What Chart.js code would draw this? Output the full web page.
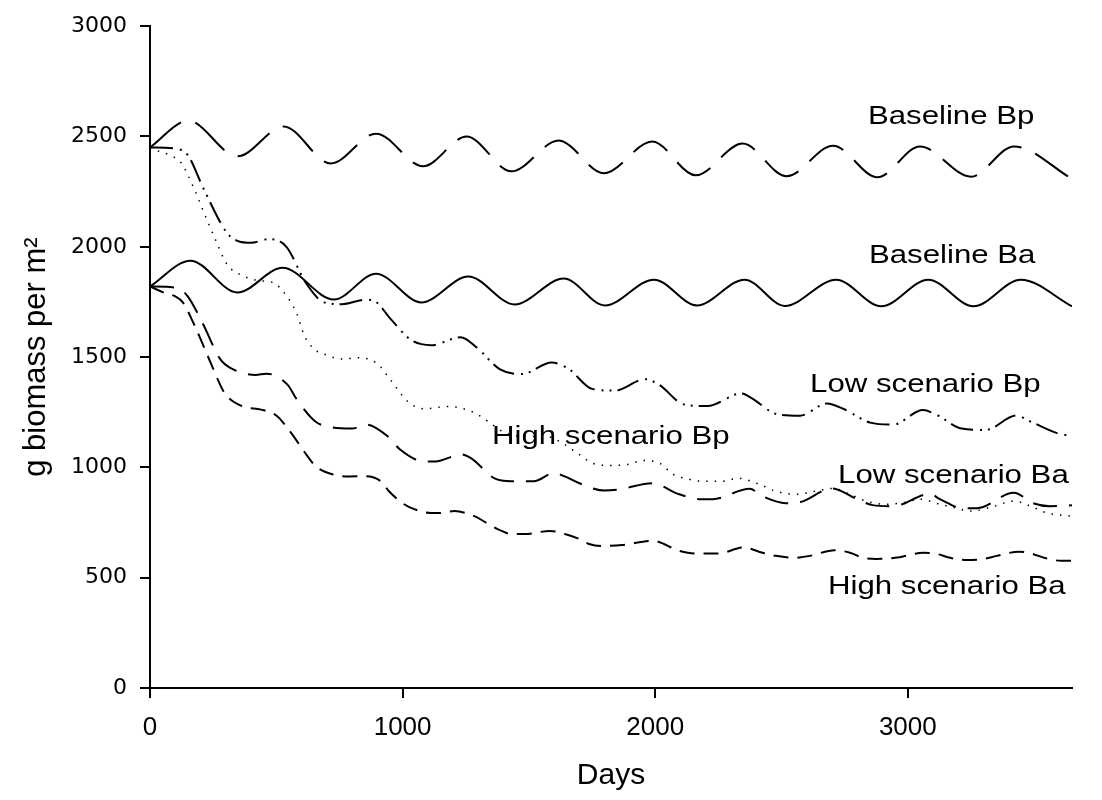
<!DOCTYPE html>
<html>
<head>
<meta charset="utf-8">
<title>Biomass scenarios</title>
<script src="https://cdn.jsdelivr.net/npm/chart.js@4.4.1/dist/chart.umd.min.js"></script>
<style>
    html, body { margin: 0; padding: 0; background: #fff; }
    #wrap { width: 1102px; height: 800px; position: relative; }
</style>
</head>
<body>
<div id="wrap"><canvas id="biomassChart"></canvas></div>
<script>
// Values: day number and g biomass per m2
const baselineBpDays = [0, 151, 346, 529, 716, 895, 1081, 1253, 1431, 1618, 1797, 1988, 2160, 2346, 2520, 2704, 2880, 3048, 3250, 3420, 3650];
const baselineBpValues = [2450, 2572, 2410, 2545, 2378, 2513, 2365, 2500, 2342, 2482, 2333, 2477, 2324, 2468, 2320, 2458, 2315, 2455, 2318, 2455, 2308];

const baselineBaDays = [0, 160, 346, 525, 728, 895, 1074, 1260, 1443, 1638, 1801, 1995, 2165, 2354, 2513, 2716, 2895, 3081, 3260, 3447, 3650];
const baselineBaValues = [1820, 1937, 1793, 1905, 1761, 1878, 1748, 1865, 1739, 1856, 1734, 1851, 1734, 1851, 1732, 1851, 1730, 1851, 1730, 1851, 1730];

const lowBpDays = [0, 100, 150, 211, 305, 350, 400, 470, 540, 616, 690, 760, 850, 887, 954, 1034, 1113, 1230, 1292, 1384, 1471, 1590, 1658, 1750, 1841, 1960, 2016, 2115, 2207, 2340, 2386, 2477, 2573, 2680, 2744, 2851, 2942, 3060, 3113, 3213, 3308, 3430, 3487, 3606, 3650];
const lowBpValues = [2450, 2445, 2415, 2266, 2063, 2025, 2018, 2035, 2000, 1838, 1748, 1740, 1760, 1755, 1671, 1577, 1554, 1590, 1545, 1446, 1423, 1475, 1446, 1356, 1348, 1400, 1374, 1285, 1278, 1335, 1311, 1243, 1234, 1290, 1266, 1203, 1194, 1260, 1239, 1176, 1170, 1235, 1207, 1150, 1145];

const highBpDays = [0, 30, 90, 125, 170, 210, 260, 305, 365, 430, 487, 545, 580, 610, 650, 700, 760, 830, 900, 950, 1022, 1085, 1180, 1280, 1340, 1400, 1480, 1570, 1630, 1700, 1754, 1821, 1890, 1952, 2019, 2071, 2120, 2190, 2260, 2330, 2413, 2477, 2557, 2636, 2704, 2771, 2835, 2915, 2980, 3050, 3120, 3193, 3248, 3330, 3420, 3487, 3551, 3650];
const highBpValues = [2450, 2435, 2410, 2378, 2275, 2165, 2030, 1920, 1870, 1847, 1838, 1770, 1700, 1600, 1536, 1509, 1491, 1497, 1470, 1400, 1297, 1266, 1276, 1250, 1207, 1160, 1140, 1140, 1112, 1058, 1018, 1009, 1013, 1031, 1018, 968, 950, 937, 937, 950, 923, 892, 878, 892, 905, 878, 847, 833, 840, 856, 835, 815, 802, 820, 847, 824, 793, 779];

const lowBaDays = [0, 100, 147, 207, 278, 320, 418, 460, 545, 580, 656, 720, 800, 855, 942, 990, 1085, 1130, 1233, 1272, 1364, 1430, 1519, 1600, 1642, 1700, 1800, 1857, 1988, 2095, 2180, 2227, 2374, 2425, 2517, 2573, 2700, 2799, 2860, 2941, 3088, 3127, 3219, 3274, 3420, 3496, 3563, 3650];
const lowBaValues = [1820, 1815, 1779, 1657, 1491, 1450, 1419, 1425, 1374, 1310, 1207, 1182, 1176, 1194, 1140, 1081, 1027, 1027, 1059, 1041, 950, 937, 937, 975, 959, 928, 895, 900, 928, 878, 856, 856, 903, 869, 838, 842, 905, 856, 829, 824, 880, 856, 815, 815, 885, 838, 824, 828];

const highBaDays = [0, 60, 100, 130, 171, 239, 278, 300, 370, 440, 500, 549, 624, 656, 724, 790, 855, 914, 946, 1006, 1046, 1113, 1145, 1205, 1284, 1340, 1392, 1431, 1483, 1583, 1642, 1698, 1738, 1789, 1869, 1990, 2095, 2160, 2250, 2350, 2425, 2477, 2550, 2612, 2710, 2771, 2823, 2875, 2950, 3062, 3113, 3169, 3230, 3300, 3352, 3440, 3487, 3540, 3606, 3650];
const highBaValues = [1820, 1790, 1775, 1748, 1657, 1477, 1374, 1329, 1275, 1262, 1235, 1171, 1050, 1005, 968, 959, 960, 937, 892, 833, 811, 793, 793, 802, 779, 743, 712, 698, 698, 712, 698, 676, 653, 644, 648, 667, 622, 610, 610, 637, 613, 599, 590, 599, 625, 613, 590, 585, 590, 613, 608, 590, 580, 585, 599, 618, 610, 590, 577, 577];

const xTicks = [0, 1000, 2000, 3000];
const yTicks = [0, 500, 1000, 1500, 2000, 2500, 3000];

// Text labels placed next to the curves (left edge, baseline) in data units
const seriesLabels = [
    { text: 'Baseline Bp', day: 2842, value: 2558 },
    { text: 'Baseline Ba', day: 2846, value: 1928 },
    { text: 'Low scenario Bp', day: 2613, value: 1342 },
    { text: 'High scenario Bp', day: 1354, value: 1108 },
    { text: 'Low scenario Ba', day: 2724, value: 928 },
    { text: 'High scenario Ba', day: 2684, value: 428 }
];

function toPoints(days, values) {
    return days.map((d, i) => ({ x: d, y: values[i] }));
}

function lineSeries(label, days, values, dash, width) {
    return {
        label: label,
        data: toPoints(days, values),
        borderColor: '#000',
        borderWidth: width || 2,
        borderDash: dash,
        pointRadius: 0,
        fill: false,
        cubicInterpolationMode: 'monotone'
    };
}

const labelPlugin = {
    id: 'seriesLabels',
    afterDatasetsDraw(chart) {
        const { ctx, scales } = chart;
        ctx.save();
        ctx.font = '26px "Liberation Sans", Arial, sans-serif';
        ctx.fillStyle = '#000';
        ctx.textBaseline = 'alphabetic';
        ctx.textAlign = 'left';
        seriesLabels.forEach(l => {
            ctx.save();
            ctx.translate(scales.x.getPixelForValue(l.day), scales.y.getPixelForValue(l.value));
            ctx.scale(1.2, 1);
            ctx.fillText(l.text, 0, 0);
            ctx.restore();
        });
        ctx.restore();
    }
};

Chart.defaults.font.family = '"Liberation Sans", Arial, sans-serif';
Chart.defaults.color = '#000';

const ctx = document.getElementById('biomassChart').getContext('2d');
new Chart(ctx, {
    type: 'line',
    data: {
        datasets: [
            lineSeries('Baseline Bp', baselineBpDays, baselineBpValues, [40, 15]),
            lineSeries('Baseline Ba', baselineBaDays, baselineBaValues, []),
            lineSeries('Low scenario Bp', lowBpDays, lowBpValues, [23, 7, 2, 6, 2, 6]),
            lineSeries('High scenario Bp', highBpDays, highBpValues, [1.5, 7], 1.5),
            lineSeries('Low scenario Ba', lowBaDays, lowBaValues, [24, 12]),
            lineSeries('High scenario Ba', highBaDays, highBaValues, [15, 9])
        ]
    },
    options: {
        responsive: true,
        maintainAspectRatio: false,
        animation: false,
        layout: { padding: { top: 22, right: 30, left: 0, bottom: 0 } },
        plugins: {
            legend: { display: false },
            tooltip: { enabled: false }
        },
        scales: {
            x: {
                type: 'linear',
                min: 0,
                max: 3650,
                afterFit: (scale) => { scale.height = 112; },
                afterBuildTicks: (scale) => { scale.ticks = xTicks.map(v => ({ value: v })); },
                ticks: {
                    padding: 14,
                    font: { size: 26 },
                    callback: (v) => String(v)
                },
                grid: { drawOnChartArea: false, tickLength: 10, color: '#000', lineWidth: 2 },
                border: { display: true, color: '#000', width: 2 },
                title: {
                    display: true,
                    text: 'Days',
                    font: { size: 30 },
                    padding: { top: 0, bottom: 6 }
                }
            },
            y: {
                min: 0,
                max: 3000,
                afterFit: (scale) => { scale.width = 150; },
                afterBuildTicks: (scale) => { scale.ticks = yTicks.map(v => ({ value: v })); },
                ticks: {
                    padding: 13,
                    font: { family: '"DejaVu Sans", sans-serif', size: 22 },
                    callback: (v) => String(v)
                },
                grid: { drawOnChartArea: false, tickLength: 10, color: '#000', lineWidth: 2 },
                border: { display: true, color: '#000', width: 2 },
                title: {
                    display: true,
                    text: 'g biomass per m²',
                    font: { size: 31 },
                    padding: { top: 18, bottom: 0 }
                }
            }
        }
    },
    plugins: [labelPlugin]
});
</script>
</body>
</html>
